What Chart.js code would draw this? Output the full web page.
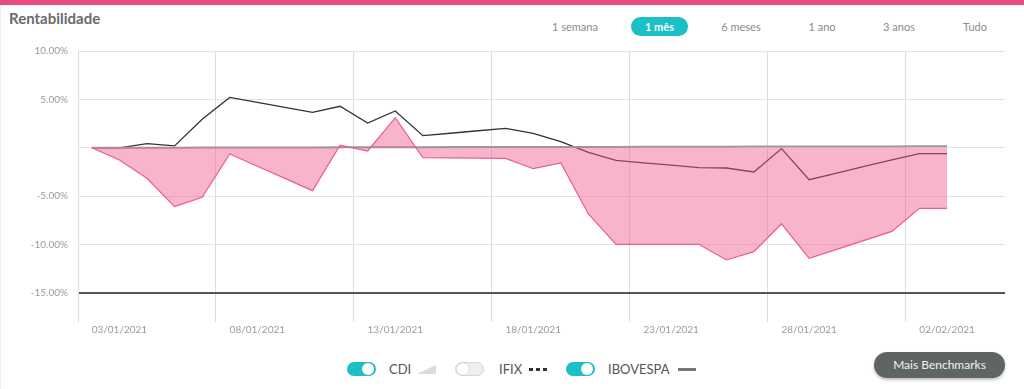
<!DOCTYPE html>
<html lang="pt-BR">
<head>
    <meta charset="UTF-8">
    <title>Rentabilidade</title>
    <script src="https://cdn.jsdelivr.net/npm/chart.js"></script>
    <style>
        body {
            margin: 0;
            width: 1024px;
            height: 389px;
            overflow: hidden;
            background: #fff;
            font-family: Lato, "Open Sans", sans-serif;
            position: relative;
        }
        .topbar { position: absolute; left: 0; top: 0; width: 1024px; height: 5px; background: #e94a7f; }
        .card-edge { position: absolute; left: 0; top: 5px; width: 1px; height: 384px; background: #eee; }
        h1 {
            position: absolute; left: 9px; top: 9px; margin: 0;
            font-size: 15px; font-weight: bold; color: #6a6a6a;
        }
        .tab {
            position: absolute; top: 17px; width: 80px; height: 19px; line-height: 19px;
            text-align: center; font-size: 11px; color: #8a8a8a;
        }
        .tab.active {
            width: 57px; background: #1bbfc6; color: #fff; font-weight: bold; border-radius: 10px;
        }
        #wrap { position: absolute; left: 0; top: 0; width: 1024px; height: 345px; }

        .legend { position: absolute; top: 362px; height: 14px; display: flex; align-items: center; }
        .toggle {
            position: relative; width: 29px; height: 14px; border-radius: 7px;
            background: #1bbfc6; box-sizing: border-box;
        }
        .toggle::after {
            content: ""; position: absolute; top: 1px; right: 2px;
            width: 12px; height: 12px; border-radius: 50%; background: #fff;
        }
        .toggle.off { background: #eeeeee; border: 1px solid #d6d6d6; }
        .toggle.off::after { right: auto; left: 1px; top: 0; box-shadow: 0 0 1px rgba(0,0,0,0.3); }
        .leg-text { font-size: 13px; color: #555; margin-left: 13px; }
        .ico-area {
            margin-left: 6px; width: 0; height: 0;
            border-left: 19px solid transparent; border-bottom: 9px solid #dcdcdc;
        }
        .ico-dots {
            margin-left: 7px; width: 18px; height: 3px;
            background: repeating-linear-gradient(90deg, #333 0 4px, transparent 4px 7px);
        }
        .ico-line { margin-left: 8px; width: 18px; height: 3px; background: #777; }
        .btn {
            position: absolute; left: 874px; top: 352px; width: 131px; height: 26px;
            border-radius: 13px; background: #5f6563; color: #f2f2f2;
            font-size: 12px; line-height: 26px; text-align: center;
            box-shadow: 0 2px 3px rgba(0,0,0,0.25);
        }
    </style>
</head>
<body>
    <div class="topbar"></div>
    <div class="card-edge"></div>
    <h1>Rentabilidade</h1>

    <div class="tab" style="left:535px">1 semana</div>
    <div class="tab active" style="left:631px">1 mês</div>
    <div class="tab" style="left:701px">6 meses</div>
    <div class="tab" style="left:782px">1 ano</div>
    <div class="tab" style="left:859px">3 anos</div>
    <div class="tab" style="left:935px">Tudo</div>

    <div id="wrap"><canvas id="chart"></canvas></div>

    <div class="legend" style="left:347px">
        <div class="toggle"></div><span class="leg-text">CDI</span><div class="ico-area"></div>
    </div>
    <div class="legend" style="left:455px">
        <div class="toggle off"></div><span class="leg-text" style="margin-left:15px">IFIX</span><div class="ico-dots"></div>
    </div>
    <div class="legend" style="left:566px">
        <div class="toggle"></div><span class="leg-text">IBOVESPA</span><div class="ico-line"></div>
    </div>
    <div class="btn">Mais Benchmarks</div>

    <script>
        // dias do periodo (um ponto por dia)
        const dias = [
            "02/01/2021", "03/01/2021", "04/01/2021", "05/01/2021", "06/01/2021", "07/01/2021",
            "08/01/2021", "09/01/2021", "10/01/2021", "11/01/2021", "12/01/2021", "13/01/2021",
            "14/01/2021", "15/01/2021", "16/01/2021", "17/01/2021", "18/01/2021", "19/01/2021",
            "20/01/2021", "21/01/2021", "22/01/2021", "23/01/2021", "24/01/2021", "25/01/2021",
            "26/01/2021", "27/01/2021", "28/01/2021", "29/01/2021", "30/01/2021", "31/01/2021",
            "01/02/2021", "02/02/2021"
        ];

        // rentabilidade da carteira (%)
        const carteira = [
            0, -1.26, -3.15, -6.08, -5.11, -0.64, -1.9, -3.16, -4.43, 0.26, -0.33, 3.11,
            -1.02, -1.04, -1.06, -1.09, -2.16, -1.57, -6.84, -9.97, -9.97, -9.97, -9.97, -11.59,
            -10.73, -7.85, -11.43, -10.5, -9.57, -8.64, -6.26, -6.26
        ];

        // IBOVESPA (%)
        const ibovespa = [
            0, 0, 0.42, 0.19, 2.94, 5.2, 4.7, 4.18, 3.67, 4.29, 2.56, 3.8,
            1.25, 1.5, 1.76, 2.01, 1.5, 0.63, -0.47, -1.3, -1.55, -1.8, -2.05, -2.09,
            -2.5, -0.08, -3.3, -2.61, -1.93, -1.24, -0.61, -0.61
        ];

        // CDI (%)
        const cdi = [
            0, 0, 0.01, 0.01, 0.02, 0.03, 0.03, 0.03, 0.04, 0.05, 0.05, 0.05,
            0.06, 0.07, 0.07, 0.07, 0.08, 0.08, 0.09, 0.09, 0.1, 0.1, 0.11, 0.11,
            0.12, 0.12, 0.13, 0.13, 0.14, 0.14, 0.15, 0.15
        ];

        const yTicks = [10, 5, 0, -5, -10, -15];
        const xRotulos = [1, 6, 11, 16, 21, 26, 31];          // dias com rotulo
        const xGrade = [4.5, 9.5, 14.5, 19.5, 24.5, 29.5];    // linhas verticais

        const pontos = arr => arr.map((v, i) => ({ x: i, y: v }));
        const fonteTick = { family: "Lato", size: 10 };

        new Chart(document.getElementById("chart"), {
            type: "line",
            data: {
                datasets: [
                    {
                        label: "Carteira",
                        data: pontos(carteira),
                        borderColor: "#ec5c8d",
                        borderWidth: 1.2,
                        backgroundColor: "rgba(239,88,142,0.45)",
                        fill: "origin",
                        pointRadius: 0,
                        tension: 0
                    },
                    {
                        label: "CDI",
                        data: pontos(cdi),
                        borderColor: "#9a9a9a",
                        borderWidth: 2,
                        fill: false,
                        pointRadius: 0,
                        tension: 0
                    },
                    {
                        label: "IBOVESPA",
                        data: pontos(ibovespa),
                        borderColor: "#333",
                        borderWidth: 1.3,
                        fill: false,
                        pointRadius: 0,
                        tension: 0
                    }
                ]
            },
            options: {
                responsive: true,
                maintainAspectRatio: false,
                animation: false,
                layout: { padding: { top: 51, right: 19, left: 0, bottom: 0 } },
                plugins: { legend: { display: false }, tooltip: { enabled: false } },
                scales: {
                    x: {
                        type: "linear",
                        min: -0.5,
                        max: 33.1,
                        afterBuildTicks: ax => {
                            ax.ticks = xRotulos.concat(xGrade).sort((a, b) => a - b).map(v => ({ value: v }));
                        },
                        afterFit: s => { s.height = 23; },
                        ticks: {
                            autoSkip: false,
                            maxRotation: 0,
                            padding: 2,
                            color: "#9a9a9a",
                            font: fonteTick,
                            callback: v => Number.isInteger(v) ? dias[v] : ""
                        },
                        grid: {
                            drawTicks: false,
                            color: c => (c.tick && Number.isInteger(c.tick.value)) ? "rgba(0,0,0,0)" : "#dcdcdc"
                        },
                        border: { display: false }
                    },
                    y: {
                        min: -18,
                        max: 10,
                        afterBuildTicks: ax => { ax.ticks = yTicks.map(v => ({ value: v })); },
                        afterFit: s => { s.width = 78; },
                        ticks: {
                            padding: 10,
                            color: "#9a9a9a",
                            font: fonteTick,
                            callback: v => v === 0 ? "" : v.toFixed(2) + "%"
                        },
                        grid: {
                            drawTicks: false,
                            color: c => (c.tick && c.tick.value === -15) ? "#555" : "#e3e3e3",
                            lineWidth: c => (c.tick && c.tick.value === -15) ? 2 : 1
                        },
                        border: { display: true, color: "#dcdcdc" }
                    }
                }
            }
        });
    </script>
</body>
</html>
